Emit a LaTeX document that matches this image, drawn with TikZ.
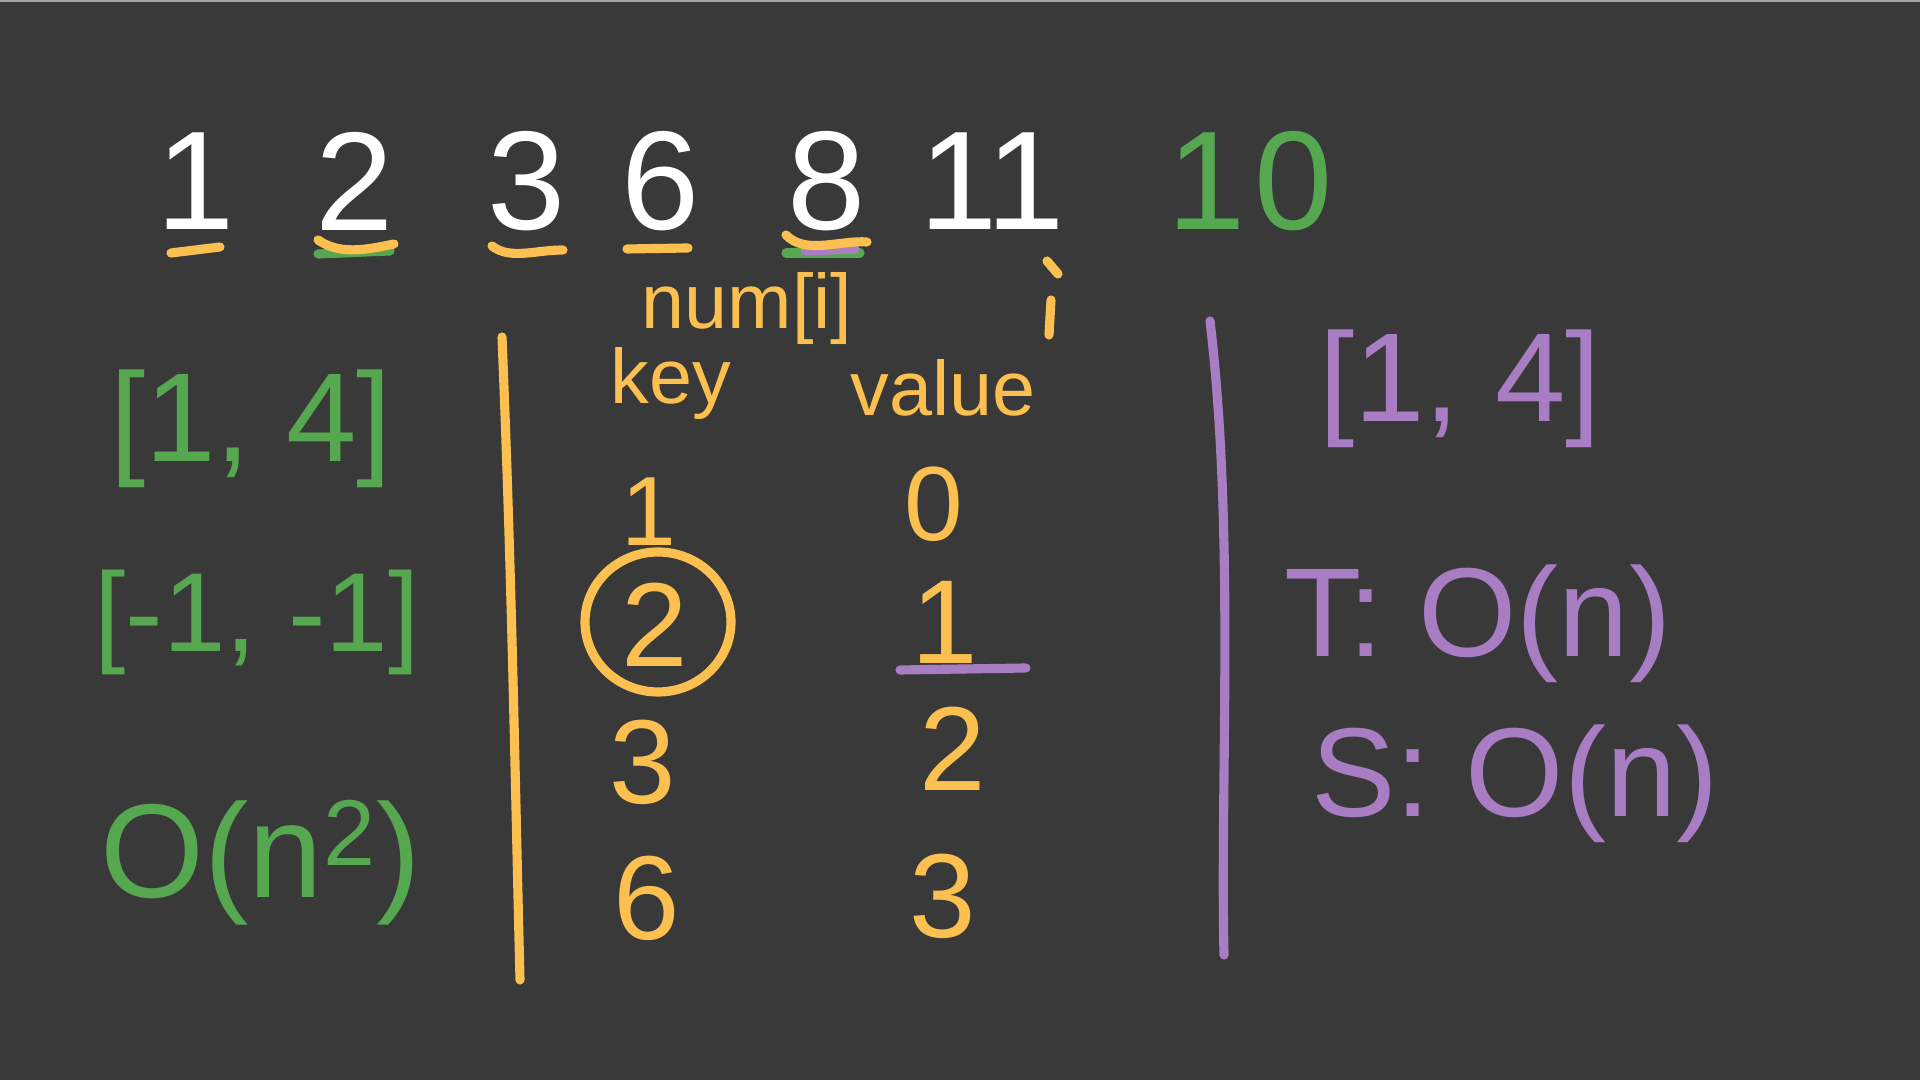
\documentclass[tikz,border=0pt]{standalone}
\usepackage{fontspec}
\setmainfont{Liberation Sans}
\usetikzlibrary{calc}
\definecolor{board}{HTML}{393939}
\definecolor{chalkorange}{HTML}{FBC04F}
\definecolor{chalkgreen}{HTML}{55A84F}
\definecolor{chalkpurple}{HTML}{A87DC3}
\tikzset{
  pen/.style={line width=2.6pt, line cap=round, line join=round},
  big/.style={font=\fontsize{40}{44}\selectfont},
  mid/.style={font=\fontsize{34}{38}\selectfont},
  small/.style={font=\fontsize{22}{26}\selectfont}
}
\begin{document}
\begin{tikzpicture}
        % Draw the board
        \fill[board] (0,0) rectangle (19.2,10.8);
        \useasboundingbox (0,0) rectangle (19.2,10.8);
        \draw[gray!70, line width=0.6pt] (0,10.79) -- (19.2,10.79);
        % Coordinates
        \coordinate (tableTop) at (5.02,7.43);
        \coordinate (tableBot) at (5.20,1.00);
        \coordinate (noteTop) at (12.10,7.59);
        \coordinate (noteBot) at (12.24,1.25);
        % Draw the array
        \node[big, white] (a1) at (1.96,8.99) {1};
        \node[big, white] (a2) at (3.55,8.99) {2};
        \node[big, white] (a3) at (5.27,8.99) {3};
        \node[big, white] (a4) at (6.61,8.99) {6};
        \node[big, white] (a5) at (8.27,8.99) {8};
        \node[big, white] (a6) at (9.92,8.99) {11};
        \node[big, chalkgreen] (target) at (12.50,8.99) {1\hspace{0.06em}0};
        % Underline the array
        \draw[pen, chalkgreen] (3.18,8.26) -- (3.90,8.29);
        \draw[pen, chalkgreen] (7.86,8.27) -- (8.60,8.27);
        \draw[pen, chalkpurple] (8.05,8.29) -- (8.55,8.31);
        \draw[pen, chalkorange] (1.71,8.27) -- (2.20,8.33);
        \draw[pen, chalkorange] (3.18,8.40) .. controls (3.40,8.25) and (3.65,8.30) .. (3.94,8.36);
        \draw[pen, chalkorange] (4.92,8.34) .. controls (5.10,8.20) and (5.35,8.30) .. (5.63,8.30);
        \draw[pen, chalkorange] (6.27,8.31) -- (6.88,8.32);
        \draw[pen, chalkorange] (7.86,8.45) .. controls (8.05,8.25) and (8.40,8.40) .. (8.67,8.38);
        % Draw the stray marks
        \draw[pen, chalkorange] (10.47,8.19) -- (10.58,8.06);
        \draw[pen, chalkorange] (10.51,7.80) -- (10.49,7.45);
        % Draw the brute force notes
        \node[font=\fontsize{36}{40}\selectfont, chalkgreen] (bf1) at (2.51,6.51) {[1, 4]};
        \node[font=\fontsize{32}{36}\selectfont, chalkgreen] (bf2) at (2.57,4.58) {[-1, -1]};
        \node[font=\fontsize{38}{42}\selectfont, chalkgreen] (bf3) at (2.61,2.17) {O(n\textsuperscript{2})};
        % Draw the hash table
        \draw[pen, chalkorange] (tableTop) .. controls (5.12,5.00) and (5.15,3.00) .. (tableBot);
        \node[small, chalkorange] (numi) at (7.47,7.71) {num[i]};
        \node[small, chalkorange, anchor=base] (key) at (6.71,6.76) {key};
        \node[small, chalkorange, anchor=base] (value) at (9.43,6.64) {value};
        \node[font=\fontsize{28}{32}\selectfont, chalkorange] (k1) at (6.49,5.68) {1};
        \node[mid, chalkorange] (k2) at (6.55,4.55) {2};
        \node[mid, chalkorange] (k3) at (6.43,3.18) {3};
        \node[mid, chalkorange] (k6) at (6.47,1.82) {6};
        \node[font=\fontsize{30}{34}\selectfont, chalkorange] (v0) at (9.34,5.76) {0};
        \node[mid, chalkorange] (v1) at (9.45,4.58) {1};
        \node[mid, chalkorange] (v2) at (9.53,3.31) {2};
        \node[mid, chalkorange] (v3) at (9.43,1.84) {3};
        % Mark the hit
        \draw[pen, chalkorange] (6.58,4.58) ellipse (0.73 and 0.70);
        \draw[pen, chalkpurple] (9.00,4.10) -- (10.26,4.12);
        % Draw the one pass notes
        \draw[pen, chalkpurple] (noteTop) .. controls (12.35,5.50) and (12.20,3.00) .. (noteBot);
        \node[font=\fontsize{36}{40}\selectfont, chalkpurple] (hp1) at (14.60,6.91) {[1, 4]};
        \node[font=\fontsize{36}{40}\selectfont, chalkpurple] (hp2) at (14.78,4.56) {T: O(n)};
        \node[font=\fontsize{36}{40}\selectfont, chalkpurple] (hp3) at (15.15,2.96) {S: O(n)};
\end{tikzpicture}
\end{document}
